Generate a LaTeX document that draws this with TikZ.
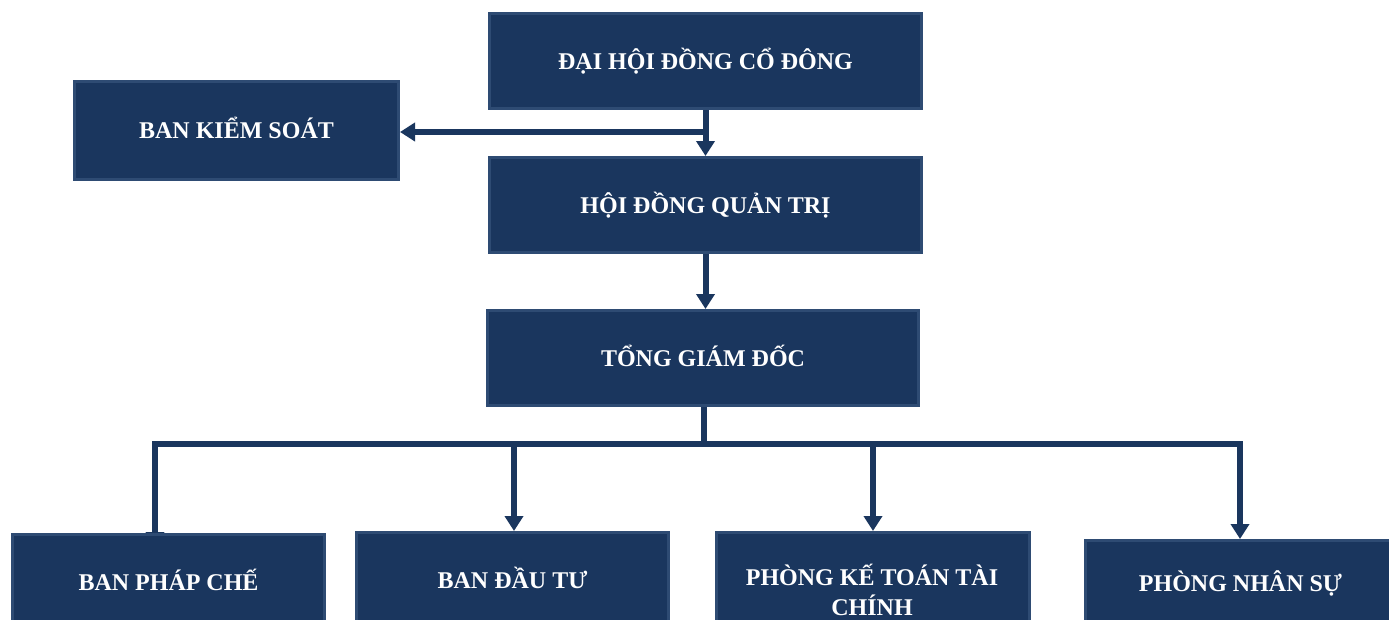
\documentclass[tikz,border=0pt]{standalone}
\usepackage{fontspec}
\setmainfont{Liberation Serif}
\usetikzlibrary{arrows.meta}
\definecolor{navy}{HTML}{1A365E}
\definecolor{navyedge}{HTML}{2E4B73}
\pgfdeclarelayer{bg}
\pgfdeclarelayer{background}
\pgfsetlayers{bg,background,main}
\begin{document}
\begin{tikzpicture}[x=1pt,y=-1pt,
  box/.style={fill=navy,draw=navyedge,line width=3pt,text=white,
    font=\fontsize{24}{30}\selectfont\bfseries,inner sep=0pt,
    text height=16pt,text depth=0pt,
    anchor=north west,align=center,minimum height=95pt},
  boxtext/.style={text=white,font=\fontsize{24}{30}\selectfont\bfseries,
    inner sep=0pt,align=center},
  conn/.style={draw=navy,line width=6pt,-{Triangle[width=18pt,length=15pt]}},
  link/.style={draw=navy,line width=6pt,line cap=rect}]
\useasboundingbox (0,0) rectangle (1389,619);
\clip (0,0) rectangle (1389,619);
\begin{pgfonlayer}{bg}
\fill[white] (0,0) rectangle (1389,619);
\end{pgfonlayer}

\node[box,minimum width=432pt] (dhd) at (488,12) {ĐẠI HỘI ĐỒNG CỔ ĐÔNG};
\node[box,minimum width=324pt,minimum height=98pt] (bks) at (73,80) {BAN KIỂM SOÁT};
\node[box,minimum width=432pt] (hdqt) at (488,156) {HỘI ĐỒNG QUẢN TRỊ};
\node[box,minimum width=431pt] (tgd) at (486,309) {TỔNG GIÁM ĐỐC};
\node[box,minimum width=312pt] (bpc) at (11,533) {BAN PHÁP CHẾ};
\node[box,minimum width=312pt] (bdt) at (355,531) {BAN ĐẦU TƯ};
\node[box,minimum width=313pt] (kttc) at (715,531) {};
\node[boxtext] (kttctext) at (872,590) {PHÒNG KẾ TOÁN TÀI\\CHÍNH};
\node[box,minimum width=310pt,minimum height=85pt] (ns) at (1084,539) {PHÒNG NHÂN SỰ};

\coordinate (j1) at (704,132);
\coordinate (bus) at (704,444);
\coordinate (b1) at (155,444);
\coordinate (b2) at (514,444);
\coordinate (b3) at (873,444);
\coordinate (b4) at (1240,444);

\begin{pgfonlayer}{background}
\draw[conn] (dhd.south) -- (hdqt.north);
\draw[conn] (j1) -- (bks.east |- j1);
\draw[conn] (hdqt.south) -- (hdqt.south |- tgd.north);
\draw[link] (tgd.south -| bus) -- (bus);
\draw[link] (b1) -- (b4);
\draw[conn,shorten >=-14pt] (b1) -- (b1 |- bpc.north);
\draw[conn] (b2) -- (b2 |- bdt.north);
\draw[conn] (b3) -- (b3 |- kttc.north);
\draw[conn] (b4) -- (b4 |- ns.north);
\end{pgfonlayer}
\end{tikzpicture}
\end{document}
